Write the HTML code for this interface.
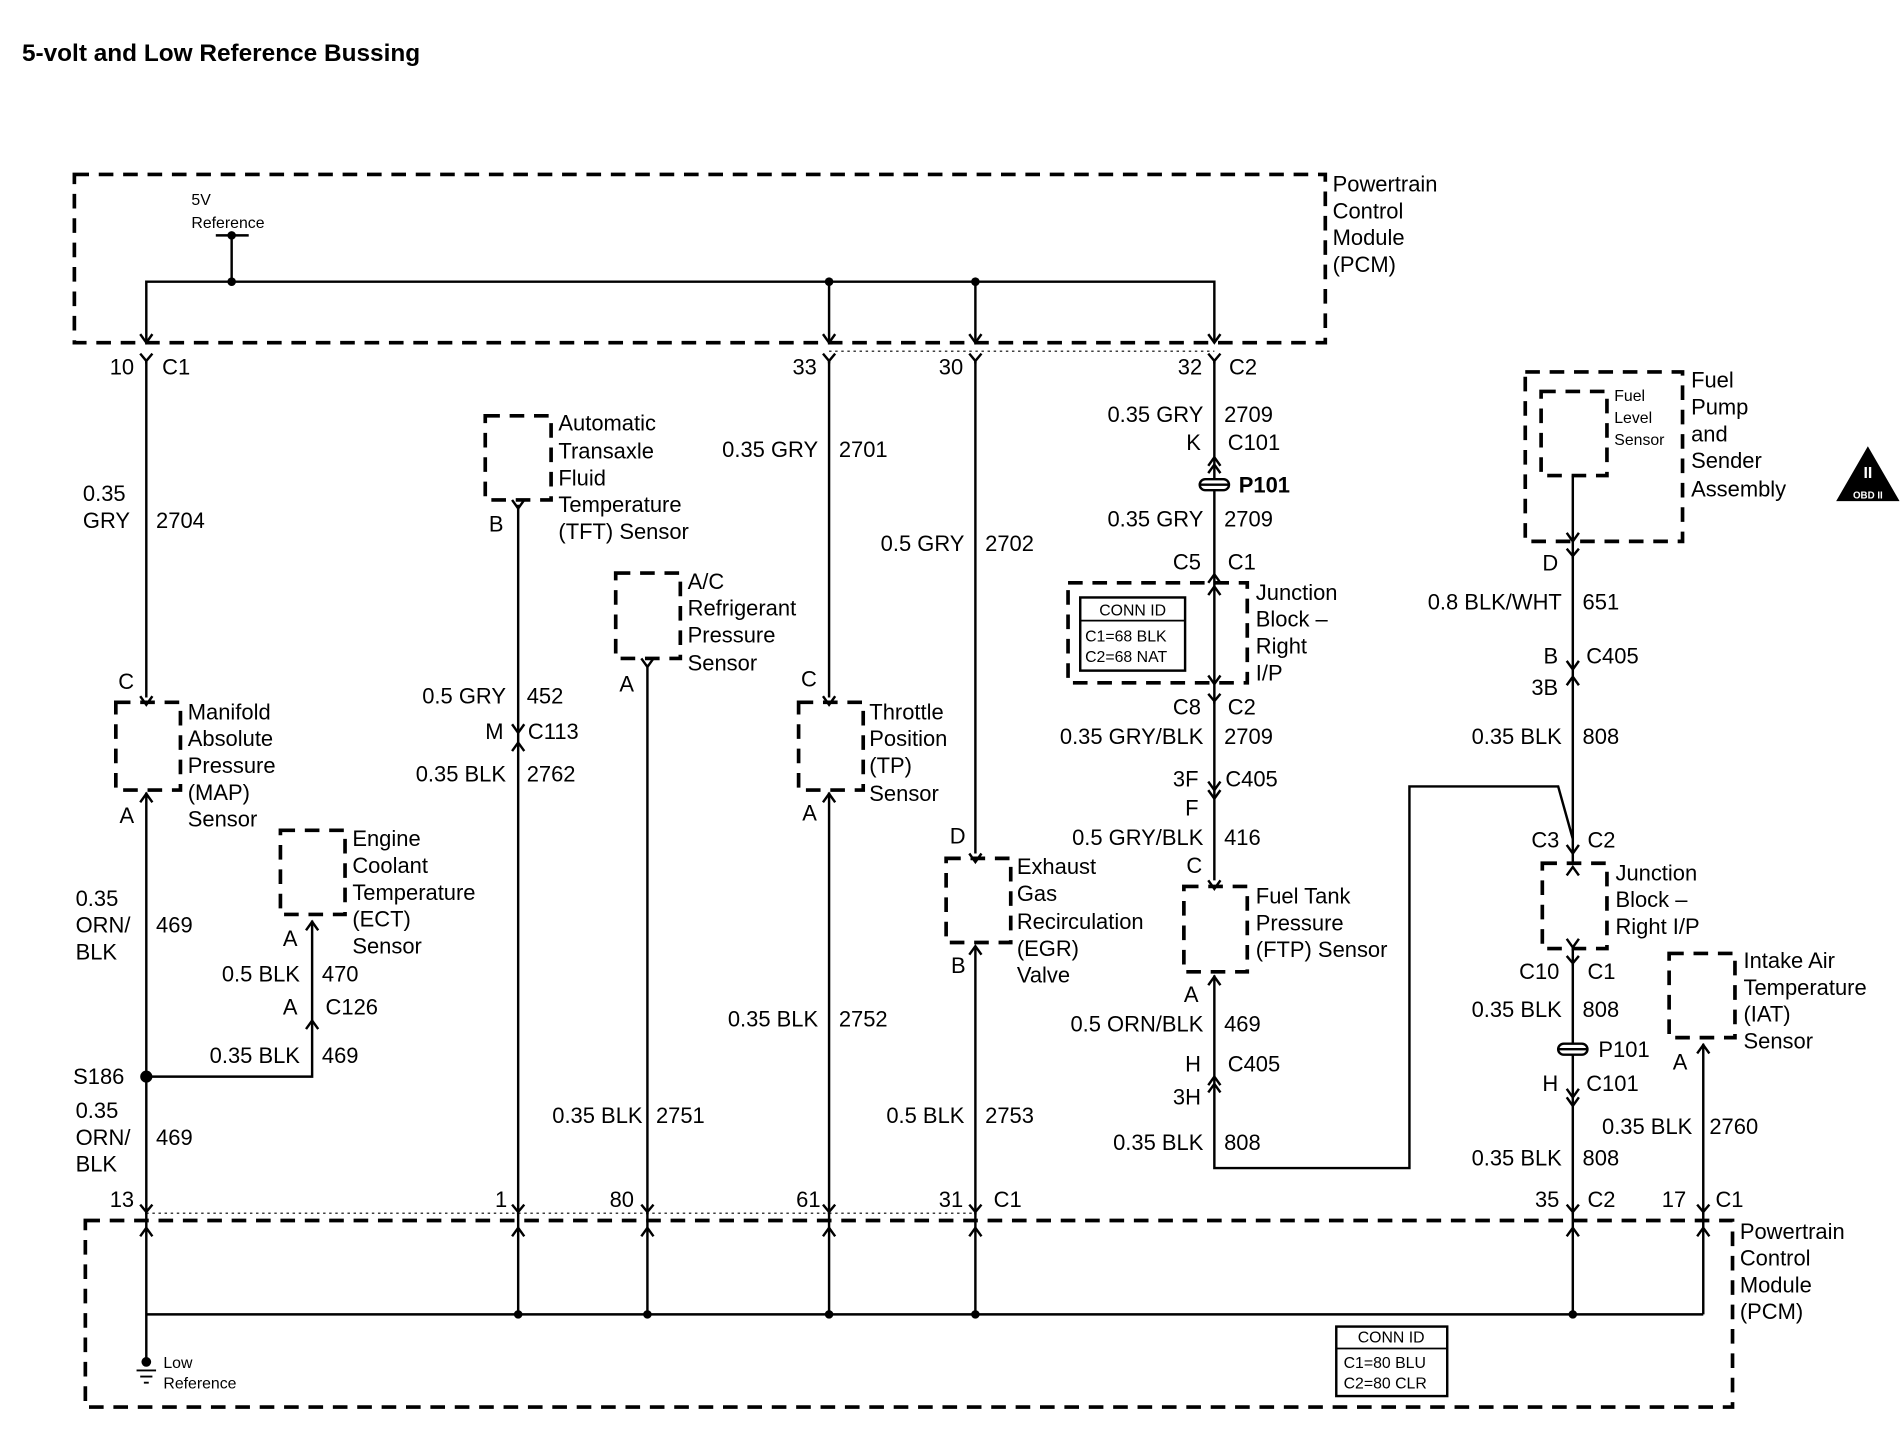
<!DOCTYPE html>
<html><head><meta charset="utf-8"><style>
html,body{margin:0;padding:0;background:#fff}
svg{display:block}
text{font-family:"Liberation Sans",Arial,sans-serif;font-size:18px;fill:#000}
.s{font-size:13px}
.r{text-anchor:end}
.d{fill:none;stroke:#000;stroke-width:3;stroke-dasharray:12 8}
.w{fill:none;stroke:#000;stroke-width:2}
</style></head><body>
<svg width="1902" height="1440" viewBox="0 0 1560 1181" xmlns="http://www.w3.org/2000/svg">
<defs>
<g id="ya"><path d="M-5,-6 L0,1 L5,-6" class="w"/></g>
<g id="yf"><path d="M-5,-6 L0,0 L5,-6 M0,0 L0,2" class="w"/></g>
<g id="ua"><path d="M-5,6 L0,-1 L5,6" class="w"/></g>
</defs>
<text x="18" y="50" style="font-weight:bold;font-size:20px">5-volt and Low Reference Bussing</text>

<!-- top PCM -->
<rect x="61" y="143" width="1026" height="138" class="d"/>
<text x="1093" y="157">Powertrain</text><text x="1093" y="179">Control</text><text x="1093" y="201">Module</text><text x="1093" y="223">(PCM)</text>
<text x="157" y="168" class="s">5V</text><text x="157" y="187" class="s">Reference</text>
<path d="M177,193 H204 M190,193 V231 M120,281 V231 H996 V281 M680,231 V281 M800,231 V281" class="w"/>
<circle cx="190" cy="193" r="3.5"/><circle cx="190" cy="231" r="3.5"/><circle cx="680" cy="231" r="3.5"/><circle cx="800" cy="231" r="3.5"/>
<use href="#ya" x="120" y="280"/><use href="#ya" x="680" y="280"/><use href="#ya" x="800" y="280"/><use href="#ya" x="996" y="280"/>
<use href="#yf" x="120" y="296"/><use href="#yf" x="680" y="296"/><use href="#yf" x="800" y="296"/><use href="#yf" x="996" y="296"/>
<path d="M680,288 H996" stroke="#000" stroke-width="1" stroke-dasharray="2 3"/>
<path d="M120,995 H800" stroke="#000" stroke-width="1" stroke-dasharray="2 3"/>

<!-- MAP wire -->
<path d="M120,296 V572 M120,650 V1117" class="w"/>
<text x="110" y="307" class="r">10</text><text x="133" y="307">C1</text>
<text x="68" y="411">0.35</text><text x="68" y="433">GRY</text><text x="128" y="433">2704</text>
<text x="110" y="565" class="r">C</text><use href="#ya" x="120" y="577"/>
<rect x="95" y="576" width="53" height="72" class="d"/>
<use href="#ua" x="120" y="652"/>
<text x="110" y="675" class="r">A</text>
<text x="154" y="590">Manifold</text><text x="154" y="612">Absolute</text><text x="154" y="634">Pressure</text><text x="154" y="656">(MAP)</text><text x="154" y="678">Sensor</text>
<text x="62" y="743">0.35</text><text x="62" y="765">ORN/</text><text x="62" y="787">BLK</text><text x="128" y="765">469</text>
<circle cx="120" cy="883" r="5"/><text x="60" y="889">S186</text>
<path d="M120,883 H256 V755" class="w"/>
<rect x="230" y="681" width="53" height="69" class="d"/>
<use href="#ua" x="256" y="757"/><use href="#ua" x="256" y="838"/>
<text x="289" y="694">Engine</text><text x="289" y="716">Coolant</text><text x="289" y="738">Temperature</text><text x="289" y="760">(ECT)</text><text x="289" y="782">Sensor</text>
<text x="244" y="776" class="r">A</text>
<text x="246" y="805" class="r">0.5 BLK</text><text x="264" y="805">470</text>
<text x="244" y="832" class="r">A</text><text x="267" y="832">C126</text>
<text x="246" y="872" class="r">0.35 BLK</text><text x="264" y="872">469</text>
<text x="62" y="917">0.35</text><text x="62" y="939">ORN/</text><text x="62" y="961">BLK</text><text x="128" y="939">469</text>
<text x="110" y="990" class="r">13</text>

<!-- TFT -->
<rect x="398" y="341" width="54" height="69" class="d"/>
<use href="#ya" x="425" y="416"/>
<path d="M425,414 V1078" class="w"/>
<text x="458" y="353">Automatic</text><text x="458" y="376">Transaxle</text><text x="458" y="398">Fluid</text><text x="458" y="420">Temperature</text><text x="458" y="442">(TFT) Sensor</text>
<text x="413" y="436" class="r">B</text>
<text x="415" y="577" class="r">0.5 GRY</text><text x="432" y="577">452</text>
<text x="413" y="606" class="r">M</text><text x="433" y="606">C113</text><use href="#ya" x="425" y="600"/><use href="#ua" x="425" y="610"/>
<text x="415" y="641" class="r">0.35 BLK</text><text x="432" y="641">2762</text>
<text x="416" y="990" class="r">1</text>

<!-- A/C -->
<rect x="505" y="470" width="53" height="70" class="d"/>
<use href="#ya" x="531" y="546"/>
<path d="M531,545 V1078" class="w"/>
<text x="564" y="483">A/C</text><text x="564" y="505">Refrigerant</text><text x="564" y="527">Pressure</text><text x="564" y="550">Sensor</text>
<text x="520" y="567" class="r">A</text>
<text x="527" y="921" class="r">0.35 BLK</text><text x="538" y="921">2751</text>
<text x="520" y="990" class="r">80</text>

<!-- TP -->
<path d="M680,296 V572 M680,650 V1078" class="w"/>
<text x="670" y="307" class="r">33</text>
<text x="671" y="375" class="r">0.35 GRY</text><text x="688" y="375">2701</text>
<text x="670" y="563" class="r">C</text><use href="#ya" x="680" y="577"/>
<rect x="655" y="576" width="53" height="72" class="d"/>
<use href="#ua" x="680" y="652"/>
<text x="713" y="590">Throttle</text><text x="713" y="612">Position</text><text x="713" y="634">(TP)</text><text x="713" y="657">Sensor</text>
<text x="670" y="673" class="r">A</text>
<text x="671" y="842" class="r">0.35 BLK</text><text x="688" y="842">2752</text>
<text x="673" y="990" class="r">61</text>

<!-- EGR -->
<path d="M800,296 V700 M800,777 V1078" class="w"/>
<text x="790" y="307" class="r">30</text>
<text x="791" y="452" class="r">0.5 GRY</text><text x="808" y="452">2702</text>
<text x="792" y="692" class="r">D</text><use href="#ya" x="800" y="706"/>
<rect x="776" y="704" width="53" height="69" class="d"/>
<use href="#ua" x="800" y="777"/>
<text x="834" y="717">Exhaust</text><text x="834" y="739">Gas</text><text x="834" y="762">Recirculation</text><text x="834" y="784">(EGR)</text><text x="834" y="806">Valve</text>
<text x="792" y="798" class="r">B</text>
<text x="791" y="921" class="r">0.5 BLK</text><text x="808" y="921">2753</text>
<text x="790" y="990" class="r">31</text><text x="815" y="990">C1</text>

<!-- 996 chain -->
<path d="M996,296 V722 M996,800 V958 H1156 V645 H1278 L1290,688" class="w"/>
<text x="986" y="307" class="r">32</text><text x="1008" y="307">C2</text>
<text x="987" y="346" class="r">0.35 GRY</text><text x="1004" y="346">2709</text>
<text x="985" y="369" class="r">K</text><text x="1007" y="369">C101</text>
<use href="#ua" x="996" y="376"/><use href="#ua" x="996" y="382"/>
<rect x="984" y="393" width="24" height="9" rx="4.5" fill="#fff" stroke="#000" stroke-width="2"/><path d="M984,397.5 H1008" stroke="#000" stroke-width="2"/>
<text x="1016" y="404" style="font-weight:bold">P101</text>
<text x="987" y="432" class="r">0.35 GRY</text><text x="1004" y="432">2709</text>
<text x="985" y="467" class="r">C5</text><text x="1007" y="467">C1</text>
<use href="#ua" x="996" y="472"/><use href="#ua" x="996" y="482"/><use href="#ya" x="996" y="560"/><use href="#yf" x="996" y="575"/>
<rect x="876" y="478" width="147" height="82" class="d"/>
<rect x="886" y="490" width="86" height="60" fill="#fff" stroke="#000" stroke-width="2"/>
<path d="M886,509 H972" stroke="#000" stroke-width="1.5"/>
<text x="929" y="505" class="s" text-anchor="middle">CONN ID</text>
<text x="890" y="526" class="s">C1=68 BLK</text><text x="890" y="543" class="s">C2=68 NAT</text>
<text x="1030" y="492">Junction</text><text x="1030" y="514">Block –</text><text x="1030" y="536">Right</text><text x="1030" y="558">I/P</text>
<text x="985" y="586" class="r">C8</text><text x="1007" y="586">C2</text>
<text x="987" y="610" class="r">0.35 GRY/BLK</text><text x="1004" y="610">2709</text>
<text x="983" y="645" class="r">3F</text><text x="1005" y="645">C405</text><use href="#ya" x="996" y="647"/><use href="#ya" x="996" y="654"/>
<text x="983" y="669" class="r">F</text>
<text x="987" y="693" class="r">0.5 GRY/BLK</text><text x="1004" y="693">416</text>
<text x="986" y="716" class="r">C</text><use href="#ya" x="996" y="728"/>
<rect x="971" y="727" width="52" height="70" class="d"/>
<use href="#ua" x="996" y="802"/>
<text x="1030" y="741">Fuel Tank</text><text x="1030" y="763">Pressure</text><text x="1030" y="785">(FTP) Sensor</text>
<text x="983" y="822" class="r">A</text>
<text x="987" y="846" class="r">0.5 ORN/BLK</text><text x="1004" y="846">469</text>
<text x="985" y="879" class="r">H</text><text x="1007" y="879">C405</text><use href="#ua" x="996" y="884"/><use href="#ua" x="996" y="890"/>
<text x="985" y="906" class="r">3H</text>
<text x="987" y="943" class="r">0.35 BLK</text><text x="1004" y="943">808</text>

<!-- Fuel pump -->
<rect x="1251" y="305" width="129" height="139" class="d"/>
<rect x="1264" y="321" width="54" height="69" class="d"/>
<text x="1324" y="329" class="s">Fuel</text><text x="1324" y="347" class="s">Level</text><text x="1324" y="365" class="s">Sensor</text>
<text x="1387" y="318">Fuel</text><text x="1387" y="340">Pump</text><text x="1387" y="362">and</text><text x="1387" y="384">Sender</text><text x="1387" y="407">Assembly</text>
<path d="M1290,390 V708 M1290,778 V1078" class="w"/>
<use href="#ya" x="1290" y="443"/><use href="#yf" x="1290" y="456"/>
<text x="1278" y="468" class="r">D</text>
<text x="1281" y="500" class="r">0.8 BLK/WHT</text><text x="1298" y="500">651</text>
<text x="1278" y="544" class="r">B</text><text x="1301" y="544">C405</text><use href="#ya" x="1290" y="548"/><use href="#ua" x="1290" y="556"/>
<text x="1278" y="570" class="r">3B</text>
<text x="1281" y="610" class="r">0.35 BLK</text><text x="1298" y="610">808</text>
<text x="1279" y="695" class="r">C3</text><text x="1302" y="695">C2</text>
<use href="#ya" x="1290" y="699"/><use href="#ua" x="1290" y="712"/>
<rect x="1265" y="708" width="53" height="70" class="d"/>
<use href="#ya" x="1290" y="776"/><use href="#yf" x="1290" y="790"/>
<text x="1325" y="722">Junction</text><text x="1325" y="744">Block –</text><text x="1325" y="766">Right I/P</text>
<text x="1279" y="803" class="r">C10</text><text x="1302" y="803">C1</text>
<text x="1281" y="834" class="r">0.35 BLK</text><text x="1298" y="834">808</text>
<rect x="1278" y="856" width="24" height="9" rx="4.5" fill="#fff" stroke="#000" stroke-width="2"/><path d="M1278,860.5 H1302" stroke="#000" stroke-width="2"/>
<text x="1311" y="867">P101</text>
<text x="1278" y="895" class="r">H</text><text x="1301" y="895">C101</text><use href="#ya" x="1290" y="899"/><use href="#ya" x="1290" y="906"/>
<text x="1388" y="930" class="r">0.35 BLK</text><text x="1402" y="930">2760</text>
<text x="1281" y="956" class="r">0.35 BLK</text><text x="1298" y="956">808</text>
<text x="1279" y="990" class="r">35</text><text x="1302" y="990">C2</text>

<!-- IAT -->
<rect x="1369" y="782" width="54" height="69" class="d"/>
<use href="#ua" x="1397" y="858"/>
<path d="M1397,856 V1078" class="w"/>
<text x="1430" y="794">Intake Air</text><text x="1430" y="816">Temperature</text><text x="1430" y="838">(IAT)</text><text x="1430" y="860">Sensor</text>
<text x="1384" y="877" class="r">A</text>
<text x="1383" y="990" class="r">17</text><text x="1407" y="990">C1</text>

<!-- OBD -->
<path d="M1532,366 L1506,411 H1558 Z" fill="#000"/>
<text x="1532" y="392" text-anchor="middle" style="font-size:13px;font-weight:bold;fill:#fff">II</text>
<text x="1532" y="409" text-anchor="middle" style="font-size:8px;font-weight:bold;fill:#fff">OBD II</text>

<!-- bottom PCM -->
<rect x="70" y="1001" width="1351" height="153" class="d"/>
<text x="1427" y="1016">Powertrain</text><text x="1427" y="1038">Control</text><text x="1427" y="1060">Module</text><text x="1427" y="1082">(PCM)</text>
<path d="M120,1078 H1397" class="w"/>
<g>
<use href="#yf" x="120" y="994"/><use href="#yf" x="425" y="994"/><use href="#yf" x="531" y="994"/><use href="#yf" x="680" y="994"/><use href="#yf" x="800" y="994"/><use href="#yf" x="1290" y="994"/><use href="#yf" x="1397" y="994"/>
<use href="#ua" x="120" y="1008"/><use href="#ua" x="425" y="1008"/><use href="#ua" x="531" y="1008"/><use href="#ua" x="680" y="1008"/><use href="#ua" x="800" y="1008"/><use href="#ua" x="1290" y="1008"/><use href="#ua" x="1397" y="1008"/>
</g>
<circle cx="425" cy="1078" r="3.5"/><circle cx="531" cy="1078" r="3.5"/><circle cx="680" cy="1078" r="3.5"/><circle cx="800" cy="1078" r="3.5"/><circle cx="1290" cy="1078" r="3.5"/>
<circle cx="120" cy="1117" r="4"/>
<path d="M112,1124 H128 M115,1129 H125 M118,1134 H122" stroke="#000" stroke-width="1.5"/>
<text x="134" y="1122" class="s">Low</text><text x="134" y="1139" class="s">Reference</text>
<rect x="1096" y="1088" width="91" height="57" fill="#fff" stroke="#000" stroke-width="2"/>
<path d="M1096,1106 H1187" stroke="#000" stroke-width="1.5"/>
<text x="1141" y="1101" class="s" text-anchor="middle">CONN ID</text>
<text x="1102" y="1122" class="s">C1=80 BLU</text><text x="1102" y="1139" class="s">C2=80 CLR</text>
</svg>
</body></html>
